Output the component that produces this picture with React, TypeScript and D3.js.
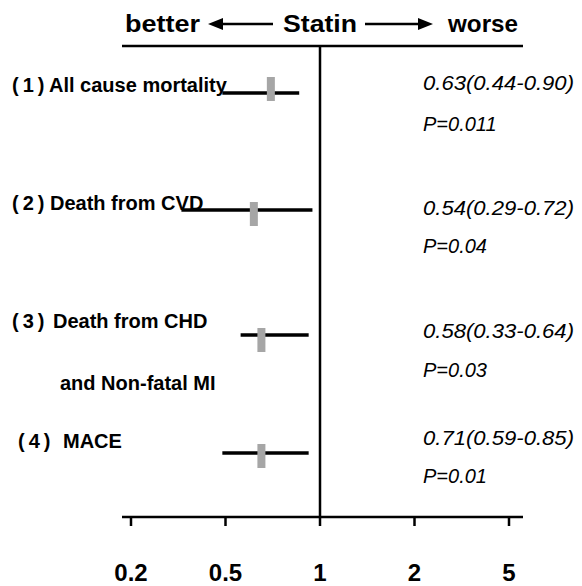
import React from 'react';
import * as d3 from 'd3';

// Outcomes, top to bottom
const outcomes = ['All cause mortality', 'Death from CVD', 'Death from CHD', 'MACE'];
const outcomeNo = ['(1)', '(2)', '(3)', '(4)'];
// Plotted estimates as drawn in the figure
const hrPoint = [0.74, 0.65, 0.69, 0.69];
const ciLow = [0.49, 0.36, 0.58, 0.49];
const ciHigh = [0.89, 0.96, 0.94, 0.94];
// Reported values printed at the right
const hrText = ['0.63(0.44-0.90)', '0.54(0.29-0.72)', '0.58(0.33-0.64)', '0.71(0.59-0.85)'];
const pText = ['P=0.011', 'P=0.04', 'P=0.03', 'P=0.01'];
// Axis ticks
const tickValues = [0.2, 0.5, 1, 2, 5];

const W = 582;
const H = 586;
const FONT = '"Liberation Sans", Arial, sans-serif';

const App = () => {
  // ticks are evenly spaced, so the scale is piecewise linear
  const x = d3.scaleLinear().domain(tickValues).range([131, 225.5, 320, 414.5, 509]);
  const rowY = [93, 210, 335, 453];
  const boxShift = [-4, 4, 5, 3];
  const labelY = [92, 210, 328, 448];
  const hrY = [90, 215, 338, 445];
  const pY = [131, 253, 377, 483];
  const noX = [12, 12, 12, 18];
  const labelX = [49, 50, 53, 63];

  const axisY = 517;
  const topY = 46;

  return (
    <svg
      width={W}
      height={H}
      style={{ position: 'absolute', left: 0, top: 0, background: 'white' }}
      fontFamily={FONT}
    >
      {/* header */}
      <line x1={122} x2={523} y1={topY} y2={topY} stroke='black' strokeWidth={2.5} />
      <text x={125} y={32} fontSize={24} fontWeight='bold' textLength={75} lengthAdjust='spacingAndGlyphs'>better</text>
      <text x={283} y={32} fontSize={24} fontWeight='bold' textLength={74} lengthAdjust='spacingAndGlyphs'>Statin</text>
      <text x={448} y={32} fontSize={24} fontWeight='bold' textLength={70} lengthAdjust='spacingAndGlyphs'>worse</text>
      <line x1={218} x2={273} y1={24} y2={24} stroke='black' strokeWidth={2.5} />
      <polygon points='208,24 223,18 223,30' fill='black' />
      <line x1={365} x2={422} y1={24} y2={24} stroke='black' strokeWidth={2.5} />
      <polygon points='433,24 418,18 418,30' fill='black' />

      {/* null line */}
      <line x1={x(1)} x2={x(1)} y1={topY} y2={axisY} stroke='black' strokeWidth={2.5} />

      {/* rows */}
      {outcomes.map((o, i) => (
        <g key={o}>
          <text x={noX[i]} y={labelY[i]} fontSize={20} fontWeight='bold' letterSpacing={4}>
            {outcomeNo[i]}
          </text>
          <text x={labelX[i]} y={labelY[i]} fontSize={20} fontWeight='bold'>
            {o}
          </text>
          <line
            x1={x(ciLow[i])}
            x2={x(ciHigh[i])}
            y1={rowY[i]}
            y2={rowY[i]}
            stroke='black'
            strokeWidth={3.5}
          />
          <rect
            x={x(hrPoint[i]) - 4}
            y={rowY[i] - 12 + boxShift[i]}
            width={8}
            height={24}
            fill='#a6a6a6'
          />
          <text
            x={423}
            y={hrY[i]}
            fontSize={20}
            fontStyle='italic'
            textLength={151}
            lengthAdjust='spacingAndGlyphs'
          >
            {hrText[i]}
          </text>
          <text x={423} y={pY[i]} fontSize={20} fontStyle='italic'>{pText[i]}</text>
        </g>
      ))}
      <text x={60} y={390} fontSize={20} fontWeight='bold'>and Non-fatal MI</text>

      {/* x axis */}
      <line x1={122} x2={523} y1={axisY} y2={axisY} stroke='black' strokeWidth={2.5} />
      {tickValues.map((t) => (
        <g key={t}>
          <line x1={x(t)} x2={x(t)} y1={axisY} y2={axisY + 9} stroke='black' strokeWidth={2.5} />
          <text x={x(t)} y={581} fontSize={24} fontWeight='bold' textAnchor='middle'>{t}</text>
        </g>
      ))}
    </svg>
  );
};

export default App;
